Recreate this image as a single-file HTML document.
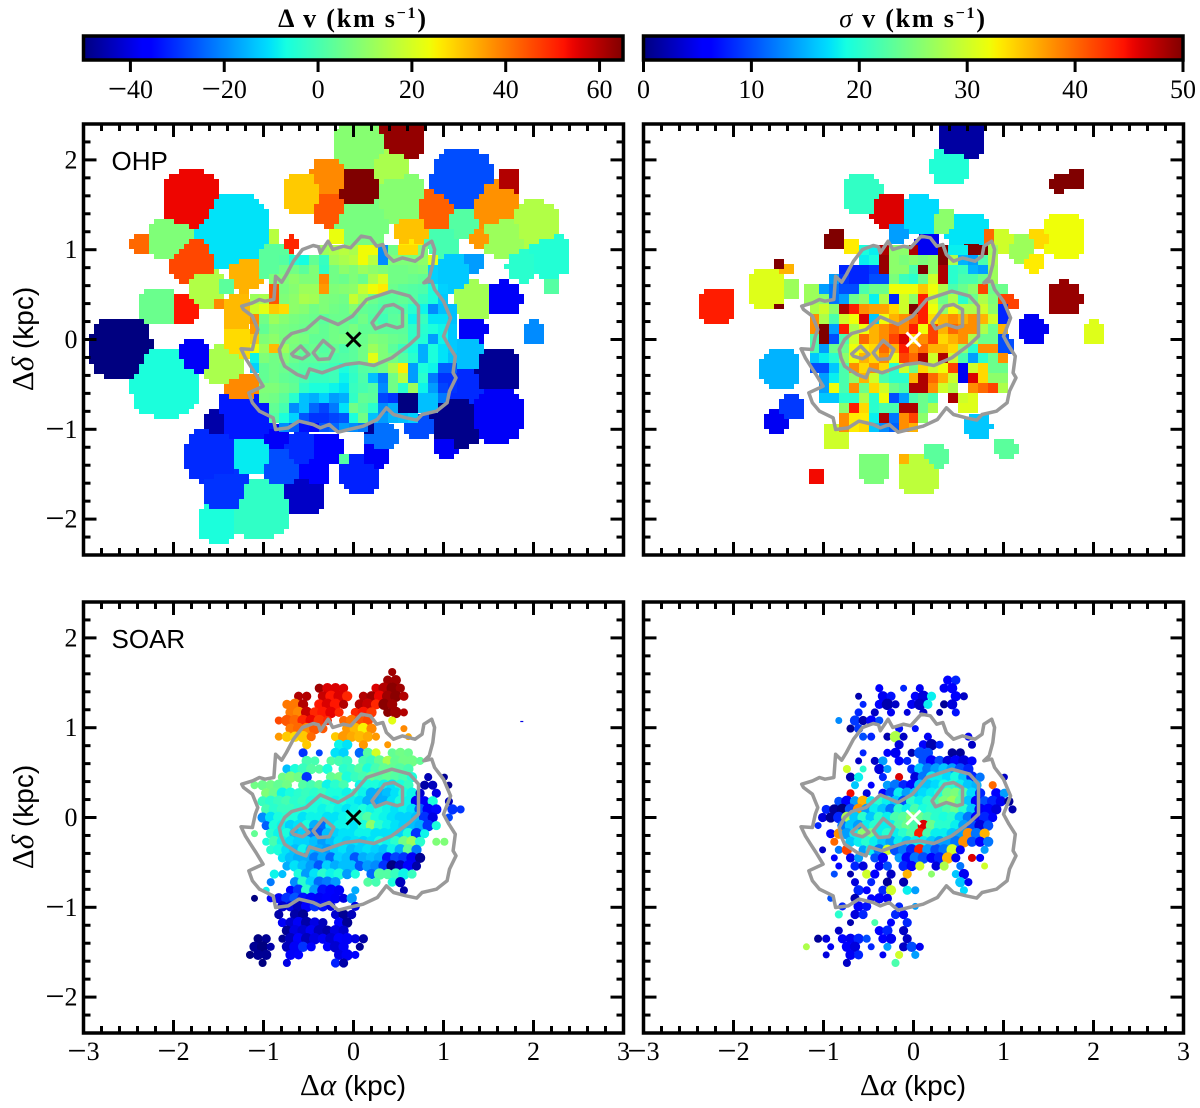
<!DOCTYPE html>
<html lang="en">
<head>
<meta charset="utf-8">
<title>OHP and SOAR velocity maps</title>
<style>
html,body{margin:0;padding:0;background:#fff;}
svg{display:block;}
text{fill:#000;}
.tick{font-family:"Liberation Serif",serif;font-size:26px;}
.sans{font-family:"Liberation Sans",sans-serif;font-size:26px;}
.axis{font-family:"Liberation Serif",serif;font-size:31px;}
.cbar{font-family:"Liberation Serif",serif;font-size:26px;font-weight:bold;letter-spacing:1.8px;}
</style>
</head>
<body>
<svg id="figure" xmlns="http://www.w3.org/2000/svg" width="1200" height="1108" viewBox="0 0 1200 1108">
<rect width="1200" height="1108" fill="#fff"/>
<defs id="defs"></defs>
<text class="cbar" x="353" y="27" text-anchor="middle">Δ v (km s<tspan font-size="16" dy="-9">−1</tspan><tspan dy="9">)</tspan></text>
<text class="cbar" x="913" y="27" text-anchor="middle"><tspan font-style="italic" font-weight="normal">σ</tspan> v (km s<tspan font-size="16" dy="-9">−1</tspan><tspan dy="9">)</tspan></text>
<text class="axis" transform="translate(33,339) rotate(-90)" text-anchor="middle">Δ<tspan font-style="italic">δ</tspan> <tspan font-family="Liberation Sans" font-size="28">(kpc)</tspan></text>
<text class="axis" transform="translate(33,817) rotate(-90)" text-anchor="middle">Δ<tspan font-style="italic">δ</tspan> <tspan font-family="Liberation Sans" font-size="28">(kpc)</tspan></text>
<text class="axis" x="353" y="1095" text-anchor="middle">Δ<tspan font-style="italic">α</tspan> <tspan font-family="Liberation Sans" font-size="28">(kpc)</tspan></text>
<text class="axis" x="913" y="1095" text-anchor="middle">Δ<tspan font-style="italic">α</tspan> <tspan font-family="Liberation Sans" font-size="28">(kpc)</tspan></text>
</svg>
<script>
// ---------- axis tick data ----------
const xMajorTicks = [-3,-2,-1,0,1,2,3];
const yMajorTicks = [-2,-1,0,1,2];
const minorTicks = [-2.8,-2.6,-2.4,-2.2,-1.8,-1.6,-1.4,-1.2,-0.8,-0.6,-0.4,-0.2,0.2,0.4,0.6,0.8,1.2,1.4,1.6,1.8,2.2,2.4,2.6,2.8];
const velocityTicks = [-40,-20,0,20,40,60];
const dispersionTicks = [0,10,20,30,40,50];

// ---------- contour data (kpc) ----------
const outerContourX = [-1.242,-1.123,-1.044,-.984,-.885,-.865,-.798,-.746,-.667,-.567,-.448,-.389,-.369,-.282,-.23,-.111,-.032,.087,.187,.258,.325,.365,.444,.544,.683,.762,.782,.869,.901,.881,.841,.782,.869,.901,1,1.079,1,1.06,1.131,1.107,1.139,1.067,1.04,.921,.762,.702,.583,.444,.365,.266,.107,-.052,-.171,-.27,-.369,-.448,-.607,-.726,-.865,-.893,-1.044,-1.123,-1.163,-1.004,-1.083,-1.143,-1.202,-1.25,-1.123,-1.091,-1.063,-1.123,-1.222];
const outerContourY = [.371,.408,.445,.427,.445,.705,.638,.724,.872,1.002,1.047,1.032,.965,1.095,1.002,1.039,1.021,1.151,1.132,1.039,1.058,.947,.872,.909,.872,.928,1.039,1.095,1.002,.835,.687,.631,.65,.557,.427,.241,.037,-.074,-.186,-.371,-.427,-.575,-.705,-.798,-.835,-.898,-.872,-.835,-.761,-.891,-.965,-1.002,-1.032,-.947,-.984,-.947,-.909,-.984,-1.002,-.872,-.798,-.705,-.594,-.52,-.39,-.297,-.204,-.104,-.111,.037,.111,.26,.334];
const midContourX = [-.825,-.766,-.687,-.528,-.369,-.171,-.012,.147,.425,.623,.722,.722,.623,.425,.226,.067,-.091,-.25,-.349,-.488,-.528,-.627,-.766,-.806];
const midContourY = [-.111,0,.067,.111,.252,.167,.26,.445,.538,.483,.371,.037,-.056,-.204,-.29,-.26,-.278,-.334,-.371,-.327,-.427,-.39,-.297,-.204];
const knotAX = [-.687,-.587,-.496,-.567,-.667];
const knotAY = [-.16,-.074,-.167,-.215,-.186];
const knotBX = [-.448,-.337,-.218,-.27,-.389];
const knotBY = [-.148,-.011,-.111,-.215,-.223];
const knotCX = [.206,.345,.444,.544,.544,.484,.365,.246];
const knotCY = [.186,.371,.39,.334,.148,.13,.167,.119];

// ---------- OHP velocity bins ----------
const ohpVelX = [-1.806,-1.361,-2.03,-2.37,-1.78,-1.64,-1.44,-1.2,-.885,-.706,-.9,-2.17,-1.88,-1.5,-1.28,-1.28,-2.59,-1.78,-2.095,-1.44,-1.24,-1.2,-1.52,-1.58,-1.14,-.8,-.865,-.59,-.31,-.45,-1.42,-.55,-1.04,-1.52,.07,.226,-.13,.3,.18,.72,1.02,1.14,1.575,1.575,1.24,1.24,1.32,2,1.675,1.32,1.08,1.34,2.17,1.87,2.19,2.01,1.67,1.4,1.555,1.72,1.2,1.22,.98,.9,.64,.64,.52,.4,.07,.52,.07,-.27,-.27,-.57,.07,-.17];
const ohpVelY = [1.552,1.206,1.11,1.08,.89,.575,.59,.72,.85,1.06,1.13,.37,.35,.39,.3,-.04,-.09,-.2,-.48,-.28,-.56,-.84,-.91,-1.3,-1.28,-1.43,-1.11,-1.22,-1.22,-1.48,-1.69,-1.73,-1.87,-2.04,-1.5,-1.3,-1.34,-1.08,-.98,-.97,-1.21,-.9,-.84,-.35,-.54,-.17,.11,.07,.46,.43,.74,.86,.93,.82,.59,1.28,1.15,1.13,1.5,1.76,1.78,1.3,1.08,1.45,1.2,1.02,1.58,1.93,2.15,2.25,1.69,1.82,1.45,1.61,1.32,1.15];
const ohpVelR = [.3,.38,.22,.1,.24,.2,.1,.17,.19,.08,.07,.19,.155,.05,.17,.17,.31,.17,.35,.2,.18,.3,.12,.27,.21,.21,.14,.18,.17,.16,.24,.21,.31,.2,.2,.13,.055,.16,.08,.14,.11,.27,.28,.24,.18,.18,.14,.12,.17,.2,.19,.1,.22,.16,.08,.24,.22,.1,.24,.12,.31,.16,.16,.2,.16,.11,.25,.2,.28,.24,.23,.19,.18,.2,.28,.1];
const ohpVelV = [54,-10,8,42,46,15,3,33,3,50,16,5,52,38,32,28,-50,-38,-6,14,38,-33,-46,-31,-9,-27,-38,-31,-36,-36,-30,-43,-3,-6,-32,-38,2,-23,-48,-27,-38,-49,-38,-48,-31,-14,-38,-20,-38,13,-13,-18,-5,-4,2,15,12,36,37,60,-27,2,0,43,31,26,9,14,9,63,65,38,44,30,7,23];

// ---------- OHP dispersion bins ----------
const ohpSigX = [.52,.4,1.78,1.62,-.57,-.29,.07,.33,.6,-.18,.15,.62,.82,.96,1.2,1.4,1.67,1.34,1.675,2,1.32,-.88,-.7,-1.5,-1.42,-1.64,-1.38,-1.5,-2.19,-1.48,-1.36,-1.52,-.865,.72,1.02,-.45,-.12,.07,.23,-1.08,-1.14,1.06,.94,1];
const ohpSigY = [2.25,1.93,1.78,1.74,1.61,1.45,1.38,1.32,1.18,1.17,1.04,1.04,1.13,1.1,1,1.13,1.15,.86,.46,.07,.11,1.11,1.04,.84,.79,.56,.575,.37,.37,-.33,-.76,-.91,-1.09,-.97,-1.21,-1.43,-1.33,-1.5,-1.3,-1.52,.5,.4,.27,-.06];
const ohpSigR = [.24,.19,.1,.09,.2,.18,.2,.13,.22,.1,.12,.12,.08,.13,.14,.1,.22,.1,.17,.12,.14,.1,.08,.06,.07,.19,.1,.05,.19,.2,.13,.12,.14,.13,.11,.16,.055,.21,.13,.08,.09,.08,.08,.1];
const ohpSigV = [1.5,19.5,50,50,20.5,46,17,26,17.5,14,5,50,40,30,27,34,32,33,49,31,5,50,33,50,36,31,27,50,44,15,9,5,30,16,23,25,36,29,23,45,27,42,8,10];

// ---------- OHP central spaxels ----------
const coreCols = [-1.1,-.99,-.88,-.77,-.66,-.55,-.44,-.33,-.22,-.11,0,.11,.22,.33,.44,.55,.66,.77,.88,.99,1.1];
const coreRows = [1,.89,.78,.67,.56,.45,.34,.23,.12,.01,-.1,-.21,-.32,-.43,-.54,-.65,-.76,-.87,-.98];
const ohpVelCore = [
[,,,,,,,12,14,16,14,24,24,-20,6,28,28,8,,,],
[,,,2,-5,-7,4,-2,12,14,16,24,16,-20,8,8,8,10,22,,],
[,,,6,6,3,8,-3,6,10,8,12,10,8,6,6,7,8,-12,,],
[,,8,8,10,8,8,38,6,5,8,5,14,20,6,6,5,4,-12,,],
[,,44,7,9,12,12,36,8,9,10,18,24,26,5,3,2,1,-6,-12,],
[12,14,44,8,10,14,13,8,7,6,18,12,5,3,3,4,2,-2,-6,-13,],
[18,22,30,28,10,9,6,8,6,5,9,4,3,1,2,1,-4,-8,-20,-14,-14],
[38,6,12,9,7,6,5,3,5,5,3,6,2,-1,3,4,-8,-2,-10,-10,-14],
[36,4,8,7,6,5,6,4,6,5,7,4,4,3,3,3,-3,-4,-6,-8,-13],
[30,8,10,7,8,7,4,4,6,7,5,5,8,7,5,4,-3,-5,-18,-8,-13],
[24,12,32,12,7,4,5,2,4,1,3,6,12,8,3,-2,-6,-16,-6,-10,-13],
[-8,8,6,8,5,3,3,3,1,2,3,6,22,8,6,2,-4,-16,-6,-10,-14],
[-12,4,6,5,3,2,1,0,-1,-6,-2,2,3,6,14,26,-18,-6,-8,-25,-25],
[,4,6,4,3,0,-2,-2,-1,-8,-3,1,-14,-22,6,16,-18,-4,-22,-30,-30],
[,8,8,6,4,-3,-6,-6,-8,-10,-2,0,2,-20,6,-4,12,-8,-18,-28,-30],
[,7,6,3,-4,-14,-16,-12,-18,-16,-3,4,3,-28,-30,-50,-50,-14,-14,-22,],
[,,4,0,-20,-14,-24,-28,-22,-10,6,2,-4,-20,-16,-50,-50,-14,-14,,],
[,,2,-6,-12,-26,-30,-30,-28,-26,-6,6,-14,-18,-15,-14,-12,,,,],
[,,,-20,-25,-34,-35,-26,-24,-18,-20,-22,,,,,,,,,]
];
const ohpSigCore = [
[,,,,,19,18,48,26,26,48,5,5,50,18,18,50,50,27,,],
[,,,,,18,19,49,26,25,26,25,26,50,28,15,14,22,28,,],
[,,,8,8,8,9,49,26,26,22,50,26,48,20,21,15,14,27,,],
[,,14,9,8,8,10,10,25,21,20,24,30,48,20,22,22,24,27,,],
[27,14,12,10,10,22,24,24,32,32,32,35,32,28,22,24,26,42,24,24,],
[27,26,12,14,24,26,18,28,8,30,26,44,30,24,28,20,24,28,25,42,],
[28,30,26,48,44,38,37,37,34,30,50,44,32,26,32,28,28,30,26,8,],
[38,28,22,30,32,46,16,32,36,38,40,44,34,36,38,36,38,36,30,8,],
[38,50,14,44,28,32,36,38,40,38,44,32,42,36,40,38,38,28,24,36,],
[22,50,10,22,30,40,36,38,42,46,34,38,42,34,36,38,28,24,24,10,],
[22,14,24,24,32,33,34,40,36,44,38,40,36,36,34,26,20,38,38,10,],
[16,18,20,26,32,36,34,38,32,42,40,48,30,48,30,22,14,20,24,38,],
[10,10,16,22,38,34,38,34,20,30,24,34,30,32,42,5,30,34,24,24,],
[,14,18,22,26,36,30,22,20,20,36,48,40,36,30,5,46,34,26,26,],
[,14,32,22,38,24,34,30,24,22,48,48,38,30,28,,38,40,42,28,],
[,16,16,20,20,28,20,32,10,14,22,24,22,,48,30,31,,,,],
[,,,26,44,34,20,22,22,48,48,24,28,,,31,31,,,,],
[,,,38,33,33,18,48,12,38,42,26,,,,,,,,,],
[,,,38,33,34,16,13,11,38,36,,,,,,,,,,]
];

// ---------- SOAR points ----------
const soarCols = [-1.17,-1.08,-.99,-.9,-.81,-.72,-.63,-.54,-.45,-.36,-.27,-.18,-.09,0,.09,.18,.27,.36,.45,.54,.63,.72,.81,.9,.99,1.08,1.17];
const soarRows = [1.62,1.53,1.44,1.35,1.26,1.17,1.08,.99,.9,.81,.72,.63,.54,.45,.36,.27,.18,.09,0,-.09,-.18,-.27,-.36,-.45,-.54,-.63,-.72,-.81,-.9,-.99,-1.08,-1.17,-1.26,-1.35,-1.44,-1.53,-1.62];
const soarVel = [
[,,,,,,,,,,,,,,,,,,62],
[,,,,,,,,,,,,,,,,,62,62],
[,,,,,,,,,62,56,56,56,,,,56,60,64,62],
[,,,,,,60,60,,58,52,56,50,,60,62,54,62,64,60],
[,,,,,40,40,60,,52,56,52,60,,60,58,50,64,62],
[,,,,,40,38,58,50,52,55,50,,50,52,48,,64,62,60],
[,,,,46,44,42,50,54,48,50,,42,40,44,46,,,22],
[,,,,,40,42,38,44,44,,,36,32,25,38,,,,38],
[,,,,36,30,28,30,42,,,30,36,34,32,34,36,,,,34],
[,,,,,,,30,,,,-8,-10,,36,,,36],
[,,,,,,,-30,,-28,,-10,-12,,-24,2,20,,4,6,5],
[,,,,,,,0,0,,2,0,-2,,0,-2,4,14,4,6,6,4],
[,,,,,-14,-6,-2,2,2,-6,,-4,-2,2,-6,0,4,4,2,0],
[,,,,6,8,6,-30,,,4,6,-6,-2,0,4,2,4,2,0,-6,,-45,,-48],
[,6,5,6,4,6,,2,0,3,-8,-4,0,,-8,-6,-6,-8,-10,-6,-2,,-46,-44,,-48],
[,,8,5,-8,-6,-4,-2,-4,-2,-6,-6,-8,-4,-8,-16,-16,-14,-10,-6,-8,-42,,-40],
[,,-2,-4,-2,0,-4,-2,-6,-6,-4,-8,-6,-8,-10,-16,-17,-16,-10,-6,-8,-38,-38,-6,,-44],
[,,0,-4,-2,-2,-4,-6,-6,-8,-6,-8,-10,-8,-6,-8,-6,-8,-10,-8,-10,-25,-38,-35,,-30,-30],
[,,-20,-10,-6,-4,-6,-10,-8,-8,-10,-10,-8,-6,-2,2,-6,-8,-10,-12,-12,-14,-30,-40,,-28],
[,,-25,-6,-8,-12,-10,-6,-16,-24,-10,-8,-8,-10,-6,10,-4,-8,-10,-12,-14,-16,-30,-6],
[,4,,-4,-8,-6,-14,-12,-22,-26,-14,-12,-10,-10,-8,-8,-10,-10,-10,-12,-6,-30,-8],
[,,-6,0,-8,-10,-12,-12,-14,-18,-14,-10,-12,-10,-12,-10,-6,-8,-4,6,12,-4,,8,8],
[,,,-4,-6,-10,-14,-8,-14,-16,-18,-12,-10,-14,-12,-10,-12,-14,-8,-16,4,-22],
[,,,,-10,-14,-16,-16,-22,-16,-24,-12,-14,-26,-16,-14,-16,-34,-28,-30,-38,-48],
[,,,,,-16,-10,-14,-18,-26,-12,-16,-14,-14,-26,-18,-20,-30,-50,-44,-36,-46],
[,,,-8,-14,,-6,-18,-10,-4,-8,-6,-18,-6,,-24,2,2,-2,-8,-2],
[,,,-22,,,-20,-4,-12,-24,-22,-18,,,,2,0,,-6,-44],
[,,-8,,,-36,-30,-4,-18,-34,-36,-38,,-16,,,,,,-46],
[,-50,,-36,-38,-30,-26,-34,-36,-38,-36,-38,-40,-18],
[,,,,-42,-40,-44,-36,-30,-34,-40,,,-40],
[,,,,-46,,-46,-48,,,,-42,-48,-44],
[,,,,-38,-42,-38,-46,-40,-44,,-36,-48],
[,,,,,-48,-40,-42,-38,-44,-46,-40,-42],
[,-50,-48,,-48,-44,-36,-44,-40,-38,-42,-36,-38,-40,-46],
[,-48,-50,-46,,-44,-38,-30,-36,,-36,-42,-38,,-48],
[-50,-48,-48,,,-38,-36,,,,,-40,-38,-36],
[,,-50,,,-40,,,,,,-32,-46]
];
const soarSig = [
[],
[,,,,,,,,,,,,,,,,,6,8],
[,,,,,,,,,6,,,8,,5,,,5,6],
[,,,,,,2,,,5,7,,,6,4,18,,,6,3],
[,,,,,,,8,,6,2,3,,5,3,18,,1,4],
[,,,,,,8,,3,,5,,4,,3,,2,,7],
[,,,,13,,9,2,6,10],
[,,,,,1,9,,,,,7,,7],
[,,,,,,,10,8,,2,28,3,,,5,,,,,5],
[,,,,,,,,,,,4,,,6,2,8,,,,3],
[,,,,,,,8,,,6,5,,2,10,10,,,1,1],
[,,,,,,3,,3,14,,6,8,,10,6,10,4,6,4,6],
[,,,,,30,,20,,4,14,,,8,16,12,14,16,14,10,8],
[,,,,,2,18,,,8,,46,,4,12,18,18,17,19,16,8,12,,,3],
[,,,,,,16,,6,,14,12,8,6,16,16,17,19,20,18,16,15,,40],
[,,,,,45,,4,,6,10,18,14,16,17,18,19,24,25,22,17,8,,6,14],
[,,,,10,6,14,36,18,20,18,16,10,20,18,20,22,25,27,23,16,6,10,8,5,1],
[,,8,1,0,10,38,14,18,16,12,20,18,22,19,20,20,22,24,20,16,5,6,4,,2],
[,,4,1,8,28,16,20,16,20,18,22,23,26,24,22,20,19,20,16,12,6,8,6],
[,8,,,12,16,14,18,20,18,18,22,24,22,46,24,20,20,18,14,10,4,10],
[,,,6,38,14,18,26,25,18,20,18,20,22,44,22,18,18,16,14,38,12,36],
[,,,40,,16,18,20,18,16,14,18,16,18,18,16,14,14,12,38,10,6,12],
[,,3,,12,42,,14,18,12,30,10,12,8,44,14,10,12,30,6,,,14],
[,,,6,,5,14,,10,6,,14,6,12,10,6,8,36,5,,46,6],
[,,,,6,,8,4,,5,10,,8,6,30,,4,28,,12,,,30],
[,,,10,,2,,30,6,,3,,36,,,26,,,16,5],
[,,,,,,4,,8,,1,,2,,,,,,,16,5],
[,,,,,,8,6,,8,30,,18,14,,,,,,17],
[,,,10,,,2,,6,6,5],
[,,,,8,,6,7,,,,8,,14],
[,,,,20,,4,8,,,,8,6],
[,,,,,2,,,22,,6,,8],
[,,,,3,,,,,6,8,,3],
[,1,4,,6,5,8,10,,6,5,,3],
[28,,,5,,6,4,,8,,14,,3,10,5],
[,,4,,,5,8,,,5,,30,,14],
[,,,,,3,,,,,,22]
];
const soarStrayX = [1.87];
const soarStrayY = [1.07];
const soarStrayV = [-40];

// ---------- rendering ----------
const SVGNS = 'http://www.w3.org/2000/svg';
const svg = document.getElementById('figure');
const defs = document.getElementById('defs');
const jetR = [[0,0],[.35,0],[.66,1],[.89,1],[1,.5]];
const jetG = [[0,0],[.125,0],[.375,1],[.64,1],[.91,0],[1,0]];
const jetB = [[0,.5],[.11,1],[.34,1],[.65,0],[1,0]];
function lerpChannel(stops,t){
  for(let i=1;i<stops.length;i++){
    if(t<=stops[i][0]){
      const a=stops[i-1],b=stops[i];
      return a[1]+(b[1]-a[1])*(t-a[0])/(b[0]-a[0]);
    }
  }
  return stops[stops.length-1][1];
}
function jet(t){
  t=Math.max(0,Math.min(1,t));
  return 'rgb('+Math.round(255*lerpChannel(jetR,t))+','+Math.round(255*lerpChannel(jetG,t))+','+Math.round(255*lerpChannel(jetB,t))+')';
}
function node(tag,attrs,parent){
  const el=document.createElementNS(SVGNS,tag);
  for(const k in attrs) el.setAttribute(k,attrs[k]);
  parent.appendChild(el);
  return el;
}
function setTickText(el,v){
  if(v<0){
    const m=node('tspan',{'font-size':34,dy:2},el);
    m.textContent='−';
    const d=node('tspan',{dy:-2},el);
    d.textContent=String(Math.abs(v));
  }else{
    el.textContent=String(v);
  }
}

const velocityRange=[-50,65];
const dispersionRange=[0,50];

function drawColorbar(name,left,right,range,ticks){
  const top=36,bottom=60;
  const grad=node('linearGradient',{id:name+'-grad',x1:0,x2:1,y1:0,y2:0},defs);
  for(let i=0;i<=64;i++){
    node('stop',{offset:i/64,'stop-color':jet(i/64)},grad);
  }
  const bar=node('rect',{x:left,y:top,width:right-left,height:bottom-top,fill:'url(#'+name+'-grad)',stroke:'#000','stroke-width':3.5},svg);
  
  
  const sx=v=>left+(v-range[0])/(range[1]-range[0])*(right-left);
  ticks.forEach(v=>{
    const t=node('line',{x1:sx(v),x2:sx(v),y1:bottom,y2:72,stroke:'#000','stroke-width':3},svg);
    
    
    const lb=node('text',{x:sx(v),y:98,'text-anchor':'middle','class':'tick'},svg);
    setTickText(lb,v);
    
    
  });
}
drawColorbar('velocity',83.5,623,velocityRange,velocityTicks);
drawColorbar('dispersion',643.5,1183,dispersionRange,dispersionTicks);

function drawPanel(p){
  const sx=v=>p.left+270+v*90;
  const sy=v=>p.zero-v*89.8;
  const color=v=>jet((v-p.range[0])/(p.range[1]-p.range[0]));
  const g=node('g',{},svg);
  
  
  const clip=node('clipPath',{id:p.name+'-clip'},defs);
  node('rect',{x:p.left,y:p.top,width:540,height:431},clip);
  const plot=node('g',{'clip-path':'url(#'+p.name+'-clip)'},g);
  
  

  if(p.bins){
    const paths=p.bins.x.map(()=> '');
    const step=5;
    for(let py=p.top;py<p.top+431;py+=step){
      for(let px=p.left;px<p.left+540;px+=step){
        const kx=(px+step/2-p.left-270)/90, ky=(p.zero-py-step/2)/89.8;
        let best=-1,bd=1;
        for(let i=0;i<p.bins.x.length;i++){
          const dx=Math.abs(kx-p.bins.x[i]),dy=Math.abs(ky-p.bins.y[i]);
          const d=Math.cbrt(dx*dx*dx+dy*dy*dy)/(p.bins.r[i]*p.grow);
          if(d<bd){bd=d;best=i;}
        }
        if(best>=0){
          const qx=Math.round(px),qy=Math.round(py);
          paths[best]+='M'+qx+' '+qy+'h'+step+'v'+step+'h-'+step+'z';
        }
      }
    }
    paths.forEach((d,i)=>{
      if(!d) return;
      const b=node('path',{d:d,fill:color(p.bins.v[i]),'shape-rendering':'crispEdges'},plot);
      
      
    });
    const half=0.055;
    coreRows.forEach((ry,j)=>{
      coreCols.forEach((cx,i)=>{
        const v=p.core[j][i];
        if(v===undefined) return;
        const x0=Math.round(sx(cx-half)),x1=Math.round(sx(cx+half));
        const y0=Math.round(sy(ry+half)),y1=Math.round(sy(ry-half));
        const c=node('rect',{x:x0,y:y0,width:x1-x0,height:y1-y0,fill:color(v),'shape-rendering':'crispEdges'},plot);
        
        
      });
    });
  }
  if(p.points){
    const has=(j,i)=>j>=0&&j<p.points.length&&p.points[j][i]!==undefined;
    soarRows.forEach((ry,j)=>{
      soarCols.forEach((cx,i)=>{
        const v=p.points[j][i];
        if(v===undefined) return;
        const n=(has(j-1,i)?1:0)+(has(j+1,i)?1:0)+(has(j,i-1)?1:0)+(has(j,i+1)?1:0);
        const c=node('circle',{cx:sx(cx+(j%2?0.02:-0.02)),cy:sy(ry),r:3.5+0.55*n,fill:color(v)},plot);
        
        
      });
    });
  }
  if(p.stray){
    soarStrayX.forEach((x,i)=>{
      const s=node('rect',{x:sx(x)-1.5,y:sy(soarStrayY[i])-0.5,width:3,height:1.2,fill:color(soarStrayV[i])},plot);
      
      
    });
  }
  const contours=[[outerContourX,outerContourY,'outer'],[midContourX,midContourY,'mid'],[knotAX,knotAY,'knot-a'],[knotBX,knotBY,'knot-b'],[knotCX,knotCY,'knot-c']];
  contours.forEach(cn=>{
    const pts=cn[0].map((x,i)=>sx(x).toFixed(1)+','+sy(cn[1][i]).toFixed(1)).join(' ');
    const l=node('polygon',{points:pts,fill:'none',stroke:'#999','stroke-width':3.5,'stroke-linejoin':'round'},plot);
    
    
  });
  const cross=node('path',{d:'M'+(sx(0)-7)+' '+(sy(0)-7)+'L'+(sx(0)+7)+' '+(sy(0)+7)+'M'+(sx(0)-7)+' '+(sy(0)+7)+'L'+(sx(0)+7)+' '+(sy(0)-7),stroke:p.crossColor,'stroke-width':3,fill:'none'},plot);
  
  

  const right=p.left+540,bottom=p.top+431;
  function tick(x1,y1,x2,y2,w){
    const t=node('line',{x1:x1,y1:y1,x2:x2,y2:y2,stroke:'#000','stroke-width':w},g);
    
    
  }
  xMajorTicks.forEach(v=>{
    tick(sx(v),p.top,sx(v),p.top+13,3);
    tick(sx(v),bottom,sx(v),bottom-13,3);
  });
  minorTicks.forEach(v=>{
    tick(sx(v),p.top,sx(v),p.top+7,3);
    tick(sx(v),bottom,sx(v),bottom-7,3);
  });
  yMajorTicks.forEach(v=>{
    tick(p.left,sy(v),p.left+13,sy(v),3);
    tick(right,sy(v),right-13,sy(v),3);
  });
  minorTicks.filter(v=>Math.abs(v)<2.4).forEach(v=>{
    tick(p.left,sy(v),p.left+7,sy(v),3);
    tick(right,sy(v),right-7,sy(v),3);
  });
  const frame=node('rect',{x:p.left,y:p.top,width:540,height:431,fill:'none',stroke:'#000','stroke-width':3.5},g);
  
  

  if(p.yLabels){
    yMajorTicks.forEach(v=>{
      const t=node('text',{x:p.left-6,y:sy(v)+8.5,'text-anchor':'end','class':'tick'},g);
      setTickText(t,v);
      
      
    });
  }
  if(p.xLabels){
    xMajorTicks.forEach(v=>{
      const t=node('text',{x:sx(v),y:1060,'text-anchor':'middle','class':'tick'},g);
      setTickText(t,v);
      
      
    });
  }
  if(p.label){
    const t=node('text',{x:p.left+28,y:p.top+46,'class':'sans'},g);
    t.textContent=p.label;
    
    
  }
}

drawPanel({name:'ohp-velocity',left:83.5,top:124,zero:339.5,range:velocityRange,crossColor:'#000',yLabels:true,xLabels:false,label:'OHP',grow:1.1,
  bins:{x:ohpVelX,y:ohpVelY,r:ohpVelR,v:ohpVelV},core:ohpVelCore});
drawPanel({name:'ohp-dispersion',left:643.5,top:124,zero:339.5,range:dispersionRange,crossColor:'#fff',yLabels:false,xLabels:false,grow:1.1,
  bins:{x:ohpSigX,y:ohpSigY,r:ohpSigR,v:ohpSigV},core:ohpSigCore});
drawPanel({name:'soar-velocity',left:83.5,top:602,zero:817.5,range:velocityRange,crossColor:'#000',yLabels:true,xLabels:true,label:'SOAR',
  points:soarVel,stray:true});
drawPanel({name:'soar-dispersion',left:643.5,top:602,zero:817.5,range:dispersionRange,crossColor:'#fff',yLabels:false,xLabels:true,
  points:soarSig});
</script>
</body>
</html>
